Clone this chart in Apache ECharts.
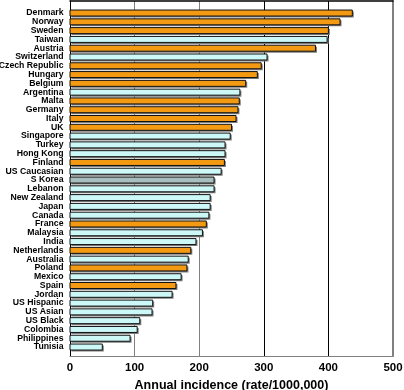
<!DOCTYPE html>
<html><head><meta charset="utf-8">
<script src="https://cdn.jsdelivr.net/npm/echarts@6/dist/echarts.min.js"></script>
<style>html,body{margin:0;padding:0;background:#fff}#c{width:404px;height:390px}</style>
</head><body><div id="c"></div>
<script>
const countries = ['Denmark','Norway','Sweden','Taiwan','Austria','Switzerland','Czech Republic','Hungary','Belgium','Argentina','Malta','Germany','Italy','UK','Singapore','Turkey','Hong Kong','Finland','US Caucasian','S Korea','Lebanon','New Zealand','Japan','Canada','France','Malaysia','India','Netherlands','Australia','Poland','Mexico','Spain','Jordan','US Hispanic','US Asian','US Black','Colombia','Philippines','Tunisia'];
const incidence = [437,418,400,398,380,305,296,290,272,263,262,260,257,250,248,240,240,239,234,223,223,217,217,215,211,205,195,187,183,181,172,164,158,128,127,108,104,93,50];
// o = Europe (orange), c = other (light cyan), g = greyish cyan
const groups = ['o','o','o','c','o','c','o','o','o','c','o','o','o','o','c','c','c','o','c','g','c','c','c','c','o','c','c','o','c','o','c','o','c','c','c','c','c','c','c'];
const xTicks = [0,100,200,300,400,500];
const axisTitle = 'Annual incidence (rate/1000,000)';

const fills = {o:'#f39a12', c:'#ccf8f8', g:'#a9bfbf'};
const FONT = 'Liberation Sans';
const yMin = -1.37, yMax = 39.02;
// label positions: one blank guard slot on each side, then one per country
const labelSlots = [-1].concat(countries.map((_, i) => i), [countries.length]);

const chart = echarts.init(document.getElementById('c'), null, {renderer:'canvas'});
chart.setOption({
  animation:false,
  backgroundColor:'#fff',
  grid:{left:70, right:11, top:1, bottom:34, containLabel:false, outerBoundsMode:'none'},
  xAxis:[{
    type:'value', position:'bottom', min:xTicks[0], max:xTicks[xTicks.length-1], interval:100,
    axisLine:{show:true, onZero:false, lineStyle:{color:'#808080', width:1}},
    axisTick:{show:false},
    splitLine:{show:true, lineStyle:{color:['#000','#808080','#808080','#000','#000','#808080'], width:1}},
    axisLabel:{fontFamily:FONT, fontWeight:'bold', fontSize:11.5, color:'#000', margin:6, showMinLabel:true, showMaxLabel:true},
    name:axisTitle, nameLocation:'middle', nameGap:17,
    nameTextStyle:{fontFamily:FONT, fontWeight:'bold', fontSize:12.5, color:'#000', verticalAlign:'top'}
  },{
    type:'value', position:'top', min:xTicks[0], max:xTicks[xTicks.length-1],
    axisLine:{show:true, onZero:false, lineStyle:{color:'#000', width:1.5}},
    axisTick:{show:false}, axisLabel:{show:false}, splitLine:{show:false}
  }],
  yAxis:[{
    type:'value', inverse:true, min:yMin, max:yMax, position:'left',
    axisLine:{show:true, onZero:false, lineStyle:{color:'#000', width:1}},
    axisTick:{show:false}, splitLine:{show:false},
    axisLabel:{
      customValues: labelSlots,
      formatter: v => countries[Math.round(v)] || '',
      showMinLabel:false, showMaxLabel:false, hideOverlap:false,
      fontFamily:FONT, fontWeight:'bold', fontSize:8.7, color:'#000', margin:6.5
    }
  },{
    type:'value', inverse:true, min:yMin, max:yMax, position:'right',
    axisLine:{show:true, onZero:false, lineStyle:{color:'#808080', width:2}},
    axisTick:{show:false}, splitLine:{show:false}, axisLabel:{show:false}
  }],
  series:[{
    type:'custom',
    xAxisIndex:0, yAxisIndex:0,
    encode:{x:0, y:1},
    data: incidence.map((v, i) => [v, i]),
    renderItem: function(params, api){
      const i = api.value(1), v = api.value(0);
      const a = api.coord([0, i]), b = api.coord([v, i]);
      const h = 6;
      const g = groups[params.dataIndex];
      return {type:'group', children:[
        {type:'rect', shape:{x:a[0]+1.5, y:a[1]-h/2+1.5, width:b[0]-a[0], height:h}, style:{fill:'#7d7d7d'}},
        {type:'rect', shape:{x:a[0], y:a[1]-h/2, width:b[0]-a[0], height:h}, style:{fill:fills[g], stroke:'#111', lineWidth:1}}
      ]};
    }
  }]
});
</script>
</body></html>
